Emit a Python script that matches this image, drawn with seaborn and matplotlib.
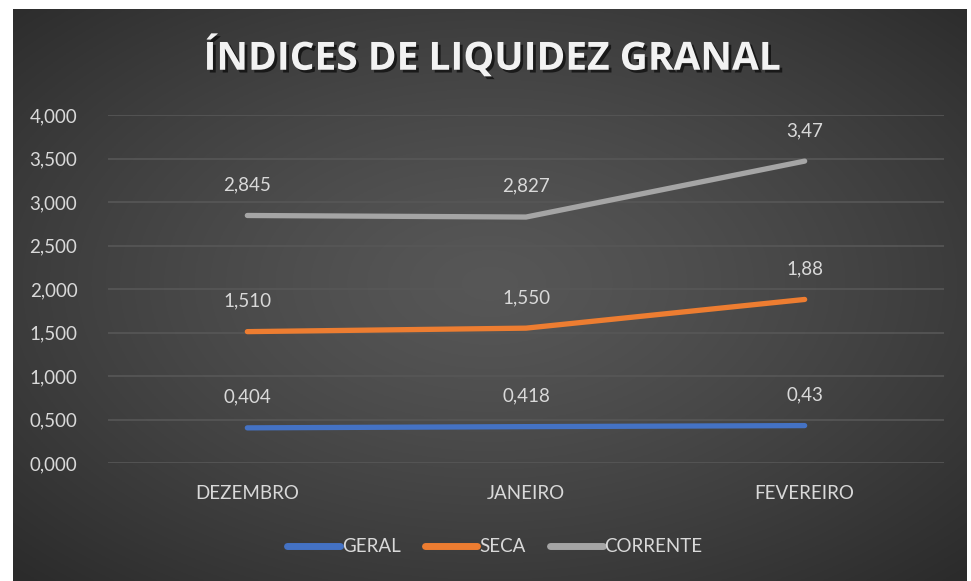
import numpy as np
import pandas as pd
import matplotlib
matplotlib.use("Agg")
import matplotlib.pyplot as plt
import matplotlib.patheffects as pe
import seaborn as sns
from matplotlib.lines import Line2D

categories = ["DEZEMBRO", "JANEIRO", "FEVEREIRO"]
geral = [0.404, 0.418, 0.43]
seca = [1.510, 1.550, 1.88]
corrente = [2.845, 2.827, 3.47]
geral_labels = ["0,404", "0,418", "0,43"]
seca_labels = ["1,510", "1,550", "1,88"]
corrente_labels = ["2,845", "2,827", "3,47"]
series_names = ["GERAL", "SECA", "CORRENTE"]
yticks = [0, 0.5, 1.0, 1.5, 2.0, 2.5, 3.0, 3.5, 4.0]

sns.set_theme(style="dark")
plt.rcParams['font.family'] = ['Lato', 'DejaVu Sans']

W, H = 971, 581
fig = plt.figure(figsize=(W / 100, H / 100), dpi=100)
fig.patch.set_facecolor("white")

# background panel with radial gradient
bx0, bx1, by0, by1 = 13, 966, 0, 572
bg = fig.add_axes([bx0 / W, by0 / H, (bx1 - bx0) / W, (by1 - by0) / H])
yy, xx = np.mgrid[0:1:300j, 0:1:500j]
r = np.sqrt(((xx - 0.5) / 0.75) ** 2 + ((yy - 0.52) / 0.75) ** 2)
r = np.clip(r / 0.95, 0, 1)
v = 0.34 - 0.17 * r ** 1.3
img = np.dstack([v, v, v])
bg.imshow(img, aspect="auto", extent=[0, 1, 0, 1], origin="lower")
bg.axis("off")

# plot area
px0, px1, py_top, py_bot = 108, 944, 115, 463
ax = fig.add_axes([px0 / W, 1 - py_bot / H, (px1 - px0) / W, (py_bot - py_top) / H])
ax.set_facecolor("none")

df = pd.DataFrame({
    "x": list(range(3)) * 3,
    "value": geral + seca + corrente,
    "serie": [series_names[0]] * 3 + [series_names[1]] * 3 + [series_names[2]] * 3,
})
palette = {"GERAL": "#4472C4", "SECA": "#ED7D31", "CORRENTE": "#A5A5A5"}
sns.lineplot(data=df, x="x", y="value", hue="serie", palette=palette, sort=False,
             linewidth=3.8, ax=ax, legend=False, solid_capstyle="round")

for vals, labs in [(geral, geral_labels), (seca, seca_labels), (corrente, corrente_labels)]:
    for i, (val, lab) in enumerate(zip(vals, labs)):
        ax.annotate(lab, (i, val), xytext=(0, 16), textcoords="offset points",
                    ha="center", va="bottom", color="#D9D9D9", fontsize=13.5)

ax.set_xlim(-0.5, 2.5)
ax.set_ylim(0, 4.0)
ax.set_yticks(yticks)
ax.set_yticklabels([f"{t:.3f}".replace(".", ",") for t in yticks], color="#D9D9D9", fontsize=13.5)
ax.set_xticks(range(3))
ax.set_xticklabels(categories, color="#D9D9D9", fontsize=13.5)
ax.tick_params(axis="y", pad=22, length=0)
ax.tick_params(axis="x", pad=16, length=0)
ax.set_xlabel("")
ax.set_ylabel("")
ax.grid(axis="y", color="#575757", linewidth=1.2)
ax.grid(axis="x", visible=False)
for s in ax.spines.values():
    s.set_visible(False)

# title
fig.text(492 / W, 1 - 57 / H, "ÍNDICES DE LIQUIDEZ GRANAL", ha="center", va="center",
         color="#F2F2F2", fontsize=28, fontweight="bold", family=["Open Sans", "DejaVu Sans"],
         path_effects=[pe.withSimplePatchShadow(offset=(2, -2), shadow_rgbFace="black", alpha=0.6)])

# legend
handles = [Line2D([0], [0], color=palette[n], linewidth=5, solid_capstyle="round") for n in series_names]
leg = fig.legend(handles, series_names, loc="center", bbox_to_anchor=(495 / W, 1 - 547 / H),
                 ncol=3, frameon=False, fontsize=13.5, handlelength=2.8, handletextpad=0.1,
                 columnspacing=1.3)
for t in leg.get_texts():
    t.set_color("#D9D9D9")

fig.savefig("out.png", dpi=100, facecolor="white")
